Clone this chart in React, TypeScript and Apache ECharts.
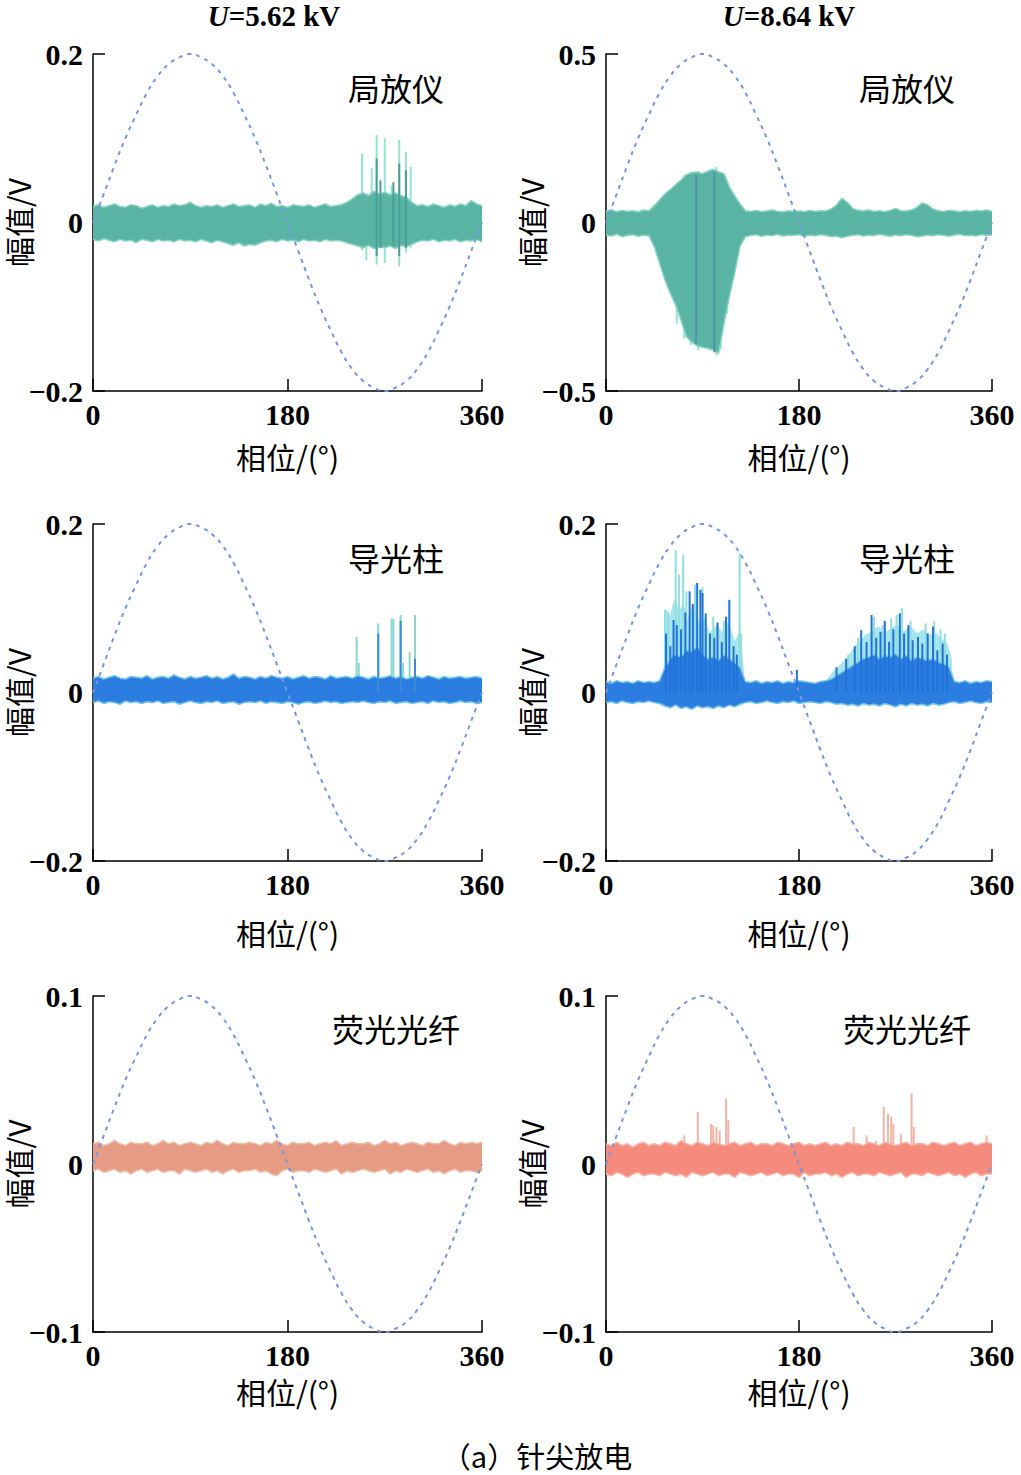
import React, { useEffect, useRef } from 'react';
import * as echarts from 'echarts';

// ---------- data (amplitudes in mV unless noted) ----------
const ENV_STEP = 5; // degrees between envelope samples
const X_TICKS_INTERVAL = 180;

// reference supply voltage shape, read at 10° steps (normalised to panel full scale)
const SINE_PHASES = [0, 10, 20, 30, 40, 50, 60, 70, 80, 90, 100, 110, 120, 130, 140, 150, 160, 170, 180, 190, 200, 210, 220, 230, 240, 250, 260, 270, 280, 290, 300, 310, 320, 330, 340, 350, 360];
const SINE_SHAPE = [0, 0.17, 0.34, 0.5, 0.64, 0.77, 0.87, 0.94, 0.98, 1, 0.98, 0.94, 0.87, 0.77, 0.64, 0.5, 0.34, 0.17, 0, -0.17, -0.34, -0.5, -0.64, -0.77, -0.87, -0.94, -0.98, -1, -0.98, -0.94, -0.87, -0.77, -0.64, -0.5, -0.34, -0.17, 0];

// Panel A: 局放仪, U=5.62 kV (full scale 0.2 V)
const A_HI = [
  19, 21, 18, 20, 22, 19, 18, 21, 20, 17,
  19, 21, 18, 20, 19, 22, 20, 21, 24, 20,
  18, 20, 19, 21, 18, 20, 22, 19, 20, 21,
  18, 22, 20, 23, 19, 20, 18, 21, 20, 19,
  21, 18, 20, 22, 19, 20, 21, 24, 28, 33,
  35, 32, 37, 34, 36, 33, 35, 32, 30, 24,
  20, 21, 19, 22, 20, 18, 21, 19, 22, 20,
  26, 22, 20];
const A_LO = [
  -20, -22, -19, -21, -23, -20, -22, -21, -24, -20,
  -21, -23, -20, -22, -21, -23, -20, -22, -21, -23,
  -20, -22, -24, -21, -23, -25, -27, -24, -28, -26,
  -27, -24, -22, -21, -23, -20, -22, -21, -23, -20,
  -22, -21, -23, -20, -22, -21, -22, -24, -26, -28,
  -30, -27, -31, -29, -30, -28, -31, -27, -29, -26,
  -23, -21, -22, -20, -23, -21, -22, -20, -23, -21,
  -22, -20, -23];
const A_LIGHT_SPIKES = [[249, -33, 82], [253, -45, 30], [258, -25, 65], [262.5, -50, 104], [270, -48, 100], [276.4, -25, 44], [283.4, -52, 98], [289.6, -36, 84], [294, -30, 66]];
const A_CORE_SPIKES = [[262.5, -40, 76], [266, -30, 50], [278, -28, 48], [283.4, -40, 70], [289.6, -30, 62]];

// Panel B: 局放仪, U=8.64 kV (full scale 0.5 V)
const B_HI = [
  34, 38, 32, 36, 33, 35, 31, 37, 34, 50,
  67, 85, 98, 112, 126, 142, 147, 150, 145, 152,
  158, 150, 145, 106, 80, 55, 35, 33, 36, 32,
  34, 37, 33, 31, 35, 33, 34, 32, 36, 33,
  35, 34, 40, 52, 72, 60, 42, 36, 34, 37,
  33, 35, 32, 36, 42, 35, 34, 37, 45, 58,
  52, 40, 35, 33, 36, 34, 32, 35, 33, 36,
  34, 37, 33];
const B_LO = [
  -37, -40, -35, -42, -38, -36, -41, -37, -39, -72,
  -121, -171, -210, -245, -290, -339, -355, -366, -370, -373,
  -378, -388, -300, -220, -150, -70, -42, -38, -36, -41,
  -37, -39, -35, -40, -37, -38, -36, -41, -37, -39,
  -36, -38, -42, -40, -45, -41, -38, -36, -40, -37,
  -39, -35, -38, -41, -37, -39, -36, -38, -42, -40,
  -37, -39, -36, -38, -41, -37, -35, -39, -37, -40,
  -36, -38, -37];
const B_LIGHT_SPIKES = [[66, -300, 118], [73, -345, 140], [79, -365, 150], [86, -380, 152], [92, -372, 150], [97, -380, 150], [103, -395, 166], [107, -375, 150], [113, -270, 120]];
const B_CORE_SPIKES = [[84, -360, 140], [101, -385, 150]];

// Panel C: 导光柱, U=5.62 kV (full scale 0.2 V)
const C_HI = [
  17, 19, 16, 18, 20, 17, 16, 19, 18, 17,
  20, 16, 18, 19, 17, 21, 18, 16, 19, 17,
  18, 20, 17, 19, 16, 18, 22, 17, 19, 18,
  16, 19, 17, 20, 18, 17, 19, 16, 18, 20,
  17, 19, 18, 16, 20, 17, 18, 19, 17, 20,
  18, 16, 19, 17, 18, 20, 17, 19, 16, 18,
  19, 17, 20, 18, 16, 19, 17, 18, 19, 17,
  18, 19, 17];
const C_LO = [
  -12, -10, -13, -11, -12, -14, -10, -12, -11, -13,
  -11, -12, -10, -13, -12, -11, -14, -12, -10, -12,
  -13, -11, -12, -10, -13, -12, -11, -14, -12, -11,
  -12, -10, -13, -11, -12, -13, -11, -12, -14, -12,
  -11, -13, -12, -10, -12, -11, -13, -12, -11, -12,
  -10, -12, -13, -11, -12, -10, -13, -12, -11, -13,
  -12, -11, -13, -10, -12, -11, -13, -12, -10, -12,
  -11, -13, -12];
const C_LIGHT_SPIKES = [[244, -10, 66], [246, -10, 35], [264, -12, 82], [276.4, -12, 88], [278, -12, 87], [284.7, -12, 92], [287, -10, 35], [293, -10, 48], [298, -12, 92]];
const C_CORE_SPIKES = [[264, 0, 70], [284.7, 0, 85], [298, 0, 40]];

// Panel D: 导光柱, U=8.64 kV (full scale 0.2 V)
const D_HI = [
  13, 11, 14, 12, 13, 11, 14, 12, 13, 12,
  14, 30, 40, 45, 42, 50, 48, 55, 45, 40,
  42, 38, 45, 40, 35, 30, 13, 12, 14, 11,
  13, 12, 14, 11, 13, 12, 14, 13, 12, 11,
  13, 14, 16, 20, 24, 28, 32, 36, 40, 42,
  45, 40, 44, 42, 46, 40, 44, 38, 42, 40,
  38, 40, 36, 34, 30, 13, 12, 14, 11, 13,
  12, 14, 13];
const D_LO = [
  -12, -11, -13, -10, -12, -13, -11, -12, -10, -12,
  -13, -16, -18, -15, -19, -17, -20, -16, -18, -17,
  -19, -16, -18, -15, -17, -14, -12, -11, -13, -12,
  -10, -12, -13, -11, -12, -10, -13, -12, -11, -12,
  -13, -11, -12, -14, -13, -15, -14, -16, -13, -15,
  -14, -16, -13, -15, -17, -14, -16, -13, -15, -14,
  -16, -13, -15, -14, -12, -11, -13, -12, -10, -12,
  -13, -11, -12];
const D_LIGHT_PHASES = [54, 56, 60, 64, 68, 72, 76, 80, 84, 88, 92, 96, 100, 104, 108, 112, 116, 120, 124, 127, 129, null,
  206, 212, 218, 224, 230, 236, 242, 248, 254, 260, 266, 272, 278, 284, 290, 296, 302, 308, 314, 318, 322, 323];
const D_LIGHT_VALUES = [14, 98, 90, 110, 95, 105, 85, 100, 90, 80, 88, 70, 75, 80, 70, 85, 75, 60, 70, 40, 14, null,
  14, 25, 32, 40, 50, 60, 68, 72, 78, 70, 76, 80, 72, 78, 70, 74, 68, 70, 62, 58, 40, 14];
const D_LIGHT_SPIKES = [[55, 0, 98], [58, 0, 96], [65, 0, 169], [68, 0, 140], [72, 0, 163], [75, 0, 120], [83, 0, 128], [90, 0, 125], [100, 0, 90], [110, 0, 85], [124.6, 0, 165], [126, 0, 70],
  [226, 0, 45], [235, 0, 65], [250, 0, 90], [258, 0, 80], [266, 0, 88], [271, 0, 92], [276, 0, 100], [284, 0, 85], [298, 0, 82], [306, 0, 85], [312, 0, 75], [316, 0, 70]];
const D_CORE_SPIKES = [[56, 0, 70], [60, 0, 55], [63, 0, 86], [66, 0, 80], [70, 0, 75], [74, 0, 95], [78, 0, 120], [81, 0, 105], [85, 0, 130], [88, 0, 122], [90, 0, 118], [93, 0, 94], [97, 0, 70], [101, 0, 65], [104, 0, 83], [108, 0, 60], [112, 0, 90], [115, 0, 110], [119, 0, 55], [122, 0, 45],
  [178, 0, 27], [215, 0, 30], [224, 0, 40], [232, 0, 55], [238, 0, 74], [243, 0, 60], [247.7, 0, 92], [252, 0, 65], [256, 0, 72], [260, 0, 85], [264, 0, 60], [268, 0, 75], [274, 0, 94], [278, 0, 70], [282, 0, 80], [286, 0, 62], [291, 0, 66], [295, 0, 58], [300, 0, 70], [305, 0, 78], [309, 0, 50], [314, 0, 58], [318, 0, 45]];

// Panel E: 荧光光纤, U=5.62 kV (full scale 0.1 V)
const E_HI = [
  12, 13, 11, 12, 14, 12, 11, 13, 12, 12,
  13, 11, 12, 14, 12, 13, 11, 12, 13, 12,
  11, 13, 12, 14, 12, 11, 13, 12, 12, 13,
  12, 11, 13, 12, 14, 12, 11, 13, 12, 12,
  13, 11, 12, 13, 12, 14, 11, 12, 13, 12,
  12, 13, 11, 12, 14, 12, 13, 11, 12, 13,
  12, 11, 13, 12, 12, 14, 12, 11, 13, 12,
  13, 12, 13];
const E_LO = [
  -4, -3, -5, -4, -3, -5, -4, -6, -4, -3,
  -5, -4, -3, -5, -4, -4, -6, -3, -4, -5,
  -4, -3, -5, -4, -6, -4, -3, -5, -4, -4,
  -3, -5, -4, -6, -7, -4, -3, -5, -4, -4,
  -5, -3, -4, -5, -4, -3, -6, -4, -5, -4,
  -3, -4, -5, -4, -3, -6, -4, -5, -3, -4,
  -5, -4, -3, -5, -4, -6, -4, -3, -5, -4,
  -4, -5, -4];

// Panel F: 荧光光纤, U=8.64 kV (full scale 0.1 V)
const F_HI = [
  12, 11, 13, 11, 12, 10, 12, 13, 11, 12,
  11, 13, 12, 11, 14, 12, 11, 13, 12, 11,
  13, 12, 11, 12, 13, 11, 12, 13, 11, 12,
  12, 11, 13, 12, 11, 12, 13, 11, 12, 11,
  12, 13, 11, 12, 11, 13, 12, 12, 11, 13,
  12, 11, 13, 12, 11, 12, 13, 11, 12, 12,
  11, 13, 12, 11, 12, 13, 11, 12, 13, 11,
  12, 13, 12];
const F_LO = [
  -6, -7, -5, -6, -8, -6, -5, -7, -6, -6,
  -7, -5, -6, -7, -6, -8, -5, -6, -7, -6,
  -5, -7, -6, -6, -8, -5, -6, -7, -6, -5,
  -7, -6, -5, -7, -6, -6, -8, -5, -7, -6,
  -6, -5, -7, -6, -8, -6, -5, -7, -6, -6,
  -7, -5, -6, -7, -6, -5, -8, -6, -6, -7,
  -5, -6, -7, -6, -5, -7, -6, -8, -6, -5,
  -7, -6, -6];
const F_LIGHT_SPIKES = [[73, 0, 17], [85.6, 0, 31], [98, 0, 24], [100, 0, 23], [103, 0, 22], [106, 0, 20], [112, 0, 39], [114, 0, 26], [231, 0, 22], [243, 0, 17], [252, 0, 14], [259, 0, 34], [263, 0, 30], [266, 0, 28], [268, 0, 24], [275, 0, 18], [285, 0, 42], [287, 0, 22], [355, 0, 17]];

const COLUMN_TITLES = ['5.62 kV', '8.64 kV'];
const ROW_LABELS = ['局放仪', '导光柱', '荧光光纤'];
const X_NAME = '相位/(°)';
const Y_NAME = '幅值/V';
const CAPTION = '（a）针尖放电';

// ---------- layout / style ----------
const SERIF = '"Liberation Serif", "Times New Roman", "Noto Sans CJK SC", serif';
const CJK = '"Noto Sans CJK SC", "Liberation Serif", sans-serif';
const COL_LEFT = [93, 606];
const COL_WIDTH = [389, 386];
const ROW_TOP = [54, 524, 996];
const ROW_HEIGHT = [337, 337, 336];
const X_NAME_GAP = [50, 56, 44];
const LABEL_X = [396, 907];
const LABEL_Y = [87, 557, 1028];

type Panel = {
  row: number; col: number; yMax: number;
  hi: number[]; lo: number[];
  band: string; edge: string;
  lightSpikes?: number[][]; lightColor?: string;
  coreSpikes?: number[][]; coreColor?: string;
  lightArea?: { phases: (number | null)[]; values: (number | null)[]; color: string };
};

const TEAL = '#5ab4a4';
const BLUE = '#2b7de0';
const PANELS: Panel[] = [
  { row: 0, col: 0, yMax: 0.2, hi: A_HI, lo: A_LO, band: TEAL, edge: '#86d3c3', lightSpikes: A_LIGHT_SPIKES, lightColor: '#93e6cd', coreSpikes: A_CORE_SPIKES, coreColor: '#4a9f95' },
  { row: 0, col: 1, yMax: 0.5, hi: B_HI, lo: B_LO, band: TEAL, edge: '#86d3c3', lightSpikes: B_LIGHT_SPIKES, lightColor: '#9be3cf', coreSpikes: B_CORE_SPIKES, coreColor: '#4a93a8' },
  { row: 1, col: 0, yMax: 0.2, hi: C_HI, lo: C_LO, band: BLUE, edge: '#6fc6e6', lightSpikes: C_LIGHT_SPIKES, lightColor: '#86d8d0', coreSpikes: C_CORE_SPIKES, coreColor: '#3a8ad4' },
  { row: 1, col: 1, yMax: 0.2, hi: D_HI, lo: D_LO, band: BLUE, edge: '#6fc6e6', lightSpikes: D_LIGHT_SPIKES, lightColor: '#8fdfe0', coreSpikes: D_CORE_SPIKES, coreColor: '#2272d8',
    lightArea: { phases: D_LIGHT_PHASES, values: D_LIGHT_VALUES, color: '#a6e6ec' } },
  { row: 2, col: 0, yMax: 0.1, hi: E_HI, lo: E_LO, band: '#e69c84', edge: '#f0bca8' },
  { row: 2, col: 1, yMax: 0.1, hi: F_HI, lo: F_LO, band: '#f58b7c', edge: '#f8b2a6', lightSpikes: F_LIGHT_SPIKES, lightColor: '#f3b4a6' },
];

const mv = (v: number) => v / 1000;

function spikeRenderer(color: string, width: number) {
  return (_params: any, api: any) => {
    const x = api.value(0);
    const a = api.coord([x, api.value(1)]);
    const b = api.coord([x, api.value(2)]);
    return {
      type: 'line',
      shape: { x1: a[0], y1: a[1], x2: b[0], y2: b[1] },
      style: { stroke: color, lineWidth: width },
    };
  };
}

function buildOption() {
  const grid: any[] = [];
  const xAxis: any[] = [];
  const yAxis: any[] = [];
  const series: any[] = [];

  PANELS.forEach((p, i) => {
    grid.push({
      left: COL_LEFT[p.col], top: ROW_TOP[p.row], width: COL_WIDTH[p.col], height: ROW_HEIGHT[p.row],
      containLabel: false, outerBoundsMode: 'none',
    });
    const axisLine = { show: true, onZero: false, lineStyle: { color: '#000', width: 1.5 } };
    const axisTick = { show: true, inside: true, length: 12, lineStyle: { color: '#000', width: 1.5 } };
    xAxis.push({
      type: 'value', gridIndex: i, min: 0, max: 360, interval: X_TICKS_INTERVAL,
      axisLine, axisTick, splitLine: { show: false },
      axisLabel: { color: '#000', fontSize: 30, fontWeight: 'bold', fontFamily: SERIF, margin: 8 },
      name: X_NAME, nameLocation: 'middle', nameGap: X_NAME_GAP[p.row], nameMoveOverlap: false,
      nameTextStyle: { color: '#000', fontSize: 30, fontFamily: CJK },
    });
    yAxis.push({
      type: 'value', gridIndex: i, min: -p.yMax, max: p.yMax, interval: p.yMax,
      axisLine, axisTick, splitLine: { show: false },
      axisLabel: {
        color: '#000', fontSize: 30, fontWeight: 'bold', fontFamily: SERIF, margin: 10,
        formatter: (v: number) => (v === 0 ? '0' : v < 0 ? '\u2212' + String(Math.abs(v)) : String(v)),
      },
      name: Y_NAME, nameLocation: 'middle', nameGap: 60, nameRotate: 90, nameMoveOverlap: false,
      nameTextStyle: { color: '#000', fontSize: 30, fontFamily: CJK },
    });

    if (p.lightArea) {
      const la = p.lightArea;
      series.push({
        type: 'line', xAxisIndex: i, yAxisIndex: i, silent: true, showSymbol: false, connectNulls: false,
        data: la.phases.map((ph, k) => (ph === null ? [null, null] : [ph, mv(la.values[k] as number)])),
        lineStyle: { width: 1, color: la.color }, areaStyle: { color: la.color, opacity: 1 }, z: 1,
      });
    }
    if (p.lightSpikes) {
      series.push({
        type: 'custom', xAxisIndex: i, yAxisIndex: i, silent: true, z: 2,
        data: p.lightSpikes.map((s) => [s[0], mv(s[1]), mv(s[2])]),
        encode: { x: 0, y: [1, 2] },
        renderItem: spikeRenderer(p.lightColor as string, 2),
      });
    }
    const hiData = p.hi.map((v, k) => [k * ENV_STEP, mv(v)]);
    const loData = p.lo.map((v, k) => [k * ENV_STEP, mv(v)]);
    // upper envelope filled down slightly past zero (overlaps the lower fill, no seam)
    series.push({
      type: 'line', xAxisIndex: i, yAxisIndex: i, silent: true, showSymbol: false, data: hiData,
      lineStyle: { width: 1.5, color: p.edge }, areaStyle: { color: p.band, opacity: 1, origin: -0.002 }, z: 3,
    });
    series.push({
      type: 'line', xAxisIndex: i, yAxisIndex: i, silent: true, showSymbol: false, data: loData,
      lineStyle: { width: 1.5, color: p.edge }, areaStyle: { color: p.band, opacity: 1, origin: 0 }, z: 3,
    });
    if (p.coreSpikes) {
      series.push({
        type: 'custom', xAxisIndex: i, yAxisIndex: i, silent: true, z: 4,
        data: p.coreSpikes.map((s) => [s[0], mv(s[1]), mv(s[2])]),
        encode: { x: 0, y: [1, 2] },
        renderItem: spikeRenderer(p.coreColor as string, 2),
      });
    }
    series.push({
      type: 'line', xAxisIndex: i, yAxisIndex: i, silent: true, showSymbol: false, smooth: true,
      data: SINE_PHASES.map((ph, k) => [ph, SINE_SHAPE[k] * p.yMax]),
      lineStyle: { width: 2, color: '#7497e2', type: [4, 5] }, z: 5,
    });
  });

  const graphic: any[] = [];
  COLUMN_TITLES.forEach((t, c) => {
    graphic.push({
      type: 'text', x: c === 0 ? 274 : 789, y: 16,
      style: {
        text: '{i|U}=' + t, align: 'center', verticalAlign: 'middle',
        font: 'bold 29px ' + SERIF, fill: '#000',
        rich: { i: { fontStyle: 'italic', fontWeight: 'bold', fontSize: 29, fontFamily: SERIF, fill: '#000' } },
      },
    });
  });
  ROW_LABELS.forEach((t, r) => {
    [0, 1].forEach((c) => {
      graphic.push({
        type: 'text', x: LABEL_X[c], y: LABEL_Y[r],
        style: { text: t, align: 'center', verticalAlign: 'middle', font: '32px ' + CJK, fill: '#000' },
      });
    });
  });
  graphic.push({
    type: 'text', x: 537, y: 1455,
    style: { text: CAPTION, align: 'center', verticalAlign: 'middle', font: '29px ' + CJK, fill: '#000' },
  });

  return { animation: false, backgroundColor: '#fff', grid, xAxis, yAxis, series, graphic };
}

export default function App() {
  const ref = useRef<HTMLDivElement>(null);
  useEffect(() => {
    if (!ref.current) return;
    const chart = echarts.init(ref.current, undefined, { renderer: 'svg' });
    chart.setOption(buildOption() as any);
    return () => chart.dispose();
  }, []);
  return <div ref={ref} style={{ position: 'absolute', left: 0, top: 0, width: 1021, height: 1475 }} />;
}
